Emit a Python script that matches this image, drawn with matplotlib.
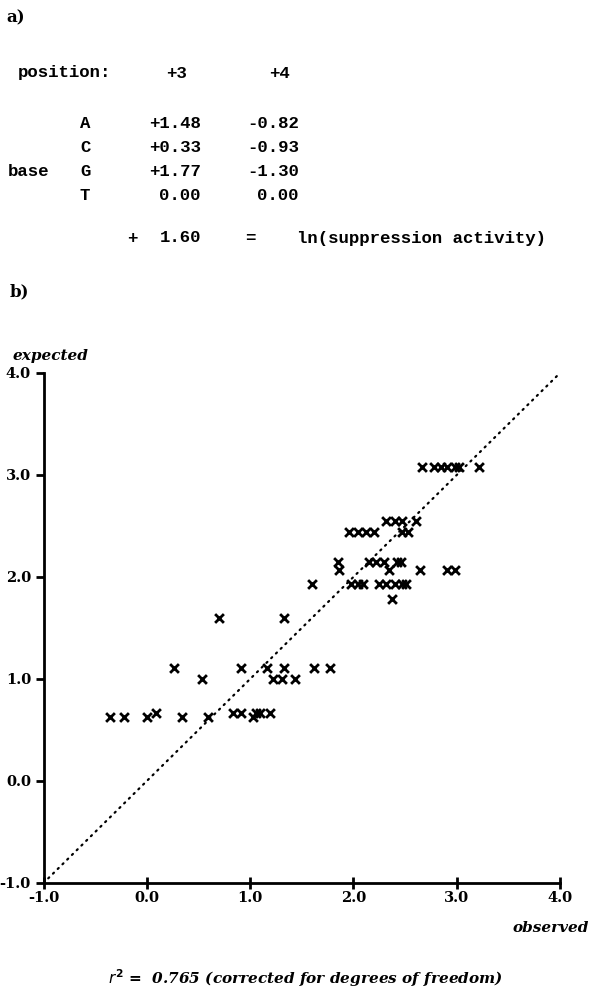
import numpy as np
import matplotlib.pyplot as plt

# part a) additive model, ln(suppression activity)
bases = ["A", "C", "G", "T"]
pos3 = [1.48, 0.33, 1.77, 0.00]
pos4 = [-0.82, -0.93, -1.30, 0.00]
intercept = 1.60

# part b) observed vs expected
observed = [2.66, 2.78, 2.85, 2.91, 2.98, 3.02, 3.22,
            2.32, 2.40, 2.47, 2.61,
            1.96, 2.04, 2.12, 2.20, 2.47, 2.53,
            1.85, 2.15, 2.22, 2.30, 2.42, 2.46,
            1.86, 2.34, 2.64, 2.91, 2.98,
            1.60, 1.98, 2.04, 2.09, 2.25, 2.32, 2.40, 2.47, 2.51,
            2.37,
            0.70, 1.33,
            0.26, 0.91, 1.16, 1.33, 1.62, 1.77,
            0.53, 1.22, 1.31, 1.43,
            0.09, 0.83, 0.91, 1.06, 1.10, 1.19,
            -0.36, -0.22, 0.00, 0.34, 0.59, 1.03]
expected = [3.08] * 7 + [2.55] * 4 + [2.44] * 6 + [2.15] * 6 + [2.07] * 5 \
    + [1.93] * 9 + [1.78] + [1.60] * 2 + [1.11] * 6 + [1.00] * 4 \
    + [0.67] * 6 + [0.63] * 6
ticks = [-1.0, 0.0, 1.0, 2.0, 3.0, 4.0]

W, H = 594, 1000
fig = plt.figure(figsize=(W / 100, H / 100), dpi=100)


def px(x, y):
    return x / W, 1 - y / H


mono = dict(family="Liberation Mono", weight="bold", fontsize=12.5, va="center")
serif_b = dict(family="DejaVu Serif", weight="bold")
serif_bi = dict(family="DejaVu Serif", weight="bold", style="italic")


def fmt(v):
    return f"{v:+.2f}" if v != 0 else f"{v:.2f}"


fig.text(*px(6, 18), "a)", fontsize=12, va="center", **serif_b)
fig.text(*px(18, 73), "position:", ha="left", **mono)
fig.text(*px(177, 73), "+3", ha="center", **mono)
fig.text(*px(279, 73), "+4", ha="center", **mono)
for i, b in enumerate(bases):
    yy = 124 + i * 24
    fig.text(*px(80, yy), b, ha="left", **mono)
    fig.text(*px(201, yy), fmt(pos3[i]), ha="right", **mono)
    fig.text(*px(299, yy), fmt(pos4[i]), ha="right", **mono)
fig.text(*px(8, 172), "base", ha="left", **mono)
fig.text(*px(132, 238), "+", ha="center", **mono)
fig.text(*px(201, 238), f"{intercept:.2f}", ha="right", **mono)
fig.text(*px(250, 238), "=", ha="center", **mono)
fig.text(*px(297, 238), "ln(suppression activity)", ha="left", **mono)

fig.text(*px(10, 292), "b)", fontsize=12, va="center", **serif_b)

ax = fig.add_axes([43.5 / W, 117 / H, 516.5 / W, 510 / H])
ax.plot([-1, 4], [-1, 4], color="black", lw=1.6,
        linestyle=(0, (0.6, 2.4)), dash_capstyle="round")
ax.scatter(observed, expected, marker="x", s=40, color="black", linewidths=2)
ax.set_xlim(-1, 4)
ax.set_ylim(-1, 4)
ax.set_xticks(ticks)
ax.set_yticks(ticks)
ax.set_xticklabels([f"{t:.1f}" for t in ticks], fontsize=10.5, **serif_b)
ax.set_yticklabels([f"{t:.1f}" for t in ticks], fontsize=10.5, **serif_b)
for s in ("top", "right"):
    ax.spines[s].set_visible(False)
for s in ("left", "bottom"):
    ax.spines[s].set_linewidth(2)
ax.tick_params(axis="y", direction="out", length=6, width=2, pad=3)
ax.tick_params(axis="x", direction="inout", length=8, width=2, pad=2)

fig.text(*px(12, 356), "expected", fontsize=11, ha="left", va="center", **serif_bi)
fig.text(*px(589, 928), "observed", fontsize=11, ha="right", va="center", **serif_bi)
fig.text(*px(108, 978), r"$\mathbf{\mathit{r}^2}$ =  0.765 (corrected for degrees of freedom)",
         fontsize=11, ha="left", va="center", **serif_bi)

fig.savefig("out.png", dpi=100)
